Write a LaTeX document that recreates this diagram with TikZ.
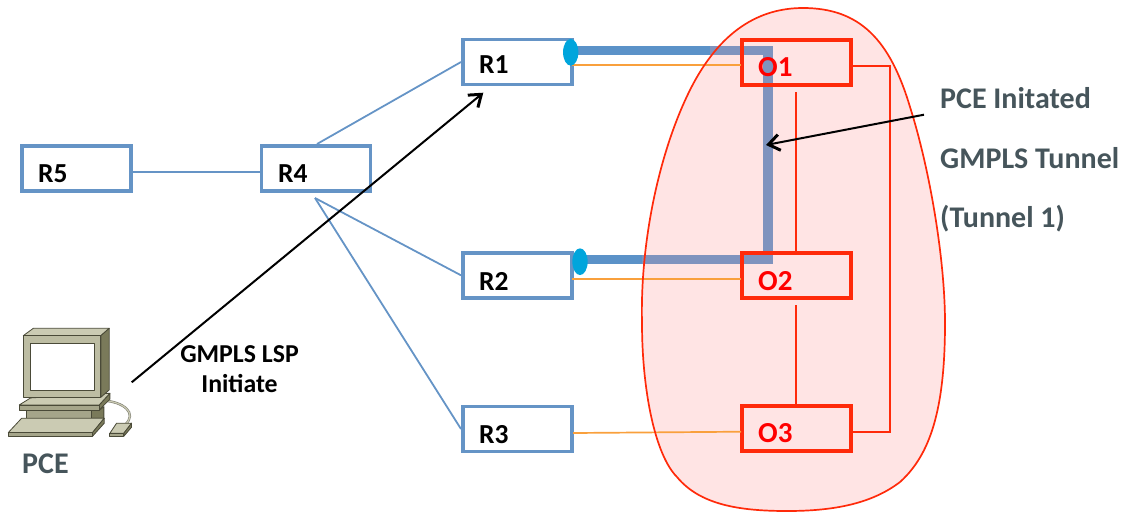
\documentclass[tikz,border=0pt]{standalone}
\usepackage{fontspec}
\setmainfont{Carlito}
\usetikzlibrary{arrows.meta,shapes.geometric}
\definecolor{bluebox}{HTML}{6594C6}
\definecolor{redbox}{HTML}{FF2A0A}
\definecolor{txt}{HTML}{46555B}
\definecolor{org}{HTML}{F9A03C}
\definecolor{tun}{HTML}{5B92C8}
\definecolor{tun2}{HTML}{7F93BE}
\definecolor{blob}{HTML}{FFE4E4}
\definecolor{dotc}{HTML}{00A5DC}
\definecolor{pcf}{HTML}{BDBDA3}
\definecolor{pct}{HTML}{CBCBB3}
\definecolor{pcs}{HTML}{7A7A5A}
\definecolor{pcd}{HTML}{A5A58A}
\definecolor{pcl}{HTML}{4A4A38}
\tikzset{x=1pt,y=-1pt,
rbox/.style={draw=bluebox,line width=3.6pt,minimum width=109pt,minimum height=45pt,inner sep=0pt},
obox/.style={draw=redbox,line width=4pt,minimum width=109pt,minimum height=45pt,inner sep=0pt},
lab/.style={font=\bfseries\fontsize{27.5}{27.5}\selectfont,text=black,anchor=base west,inner sep=0pt},
olab/.style={font=\bfseries\fontsize{29}{29}\selectfont,text=red,anchor=base west,inner sep=0pt},
glab/.style={font=\bfseries\fontsize{30}{30}\selectfont,text=txt,anchor=base west,inner sep=0pt},
bl/.style={draw=bluebox,line width=1.8pt},
ol/.style={draw=org,line width=1.7pt},
rl/.style={draw=redbox,line width=1.7pt},
dotn/.style={fill=dotc,draw=none,ellipse,minimum width=15.3pt,minimum height=26.7pt,inner sep=0pt},
pc/.style={draw=pcl,line width=.8pt,line join=round},
tip/.style={-{Straight Barb[length=11pt,width=16pt,line width=3pt]},line width=2pt}}
\begin{document}
\begin{tikzpicture}
\useasboundingbox (0,0) rectangle (1123,512);
\def\blobpath{(803,8) .. controls (860,8) and (890,40) .. (910,107) .. controls (930,170) and (945,260) .. (945,323) .. controls (945,410) and (930,455) .. (900,482) .. controls (870,505) and (830,511) .. (787,511) .. controls (740,511) and (700,505) .. (677,477) .. controls (655,455) and (642,390) .. (642,323) .. controls (640,240) and (660,150) .. (690,90) .. controls (720,30) and (760,8) .. (803,8) -- cycle}
\fill[blob] \blobpath;
\coordinate (c4) at (315,198);
\coordinate (t4) at (317,144);
\draw[tun,line width=9.3pt] (573,50.5) -- (710,50.5);
\draw[tun2,line width=9.3pt] (710,50.5) -- (772.7,50.5);
\draw[tun2,line width=9.3pt] (768,46) -- (768,264);
\draw[tun,line width=9.3pt] (586,259.5) -- (642,259.5);
\draw[tun2,line width=9.3pt] (642,259.5) -- (772.7,259.5);
\node[rbox] (R4) at (316,168.7) {};
\node[rbox] (R5) at (76.3,168.7) {};
\node[rbox] (R1) at (517.3,62) {};
\node[rbox] (R2) at (517.3,275.3) {};
\node[rbox] (R3) at (517.3,429) {};
\node[obox] (O1) at (796.3,62) {};
\node[obox] (O2) at (796.3,275.3) {};
\node[obox] (O3) at (796.3,428) {};
\draw[bl] ([yshift=-3pt]R5.east) -- ([yshift=-3pt]R4.west);
\draw[bl] (t4) -- (R1.west);
\draw[bl] (c4) -- (R2.west);
\draw[bl] (c4) -- (R3.west);
\draw[ol] (572,65) -- (741,65);
\draw[ol] (572,278.7) -- (741,278.7);
\draw[ol] (573,433) -- (741,431.7);
\draw[rl] (853,65.7) -- (890,65.7) -- (890,431.7) -- (853,431.7);
\draw[rl] (796.3,92) -- (796.3,252);
\draw[rl] (796.3,305) -- (796.3,404);
\draw[draw=redbox,line width=1.7pt] \blobpath;
\node[dotn] (d1) at (570.7,52.3) {};
\node[dotn] (d2) at (580,261.7) {};
\node[lab] (tR1) at (479,73) {R1};
\node[lab] (tR2) at (479,290) {R2};
\node[lab] (tR3) at (479,443) {R3};
\node[lab] (tR4) at (278,182.7) {R4};
\node[lab] (tR5) at (38,182.7) {R5};
\node[olab] (tO1) at (758,76) {O1};
\node[olab] (tO2) at (758,290) {O2};
\node[olab] (tO3) at (758,442.3) {O3};
\node[glab] (g1) at (940,108) {PCE Initated};
\node[glab] (g2) at (940,168) {GMPLS Tunnel};
\node[glab] (g3) at (940,227.5) {(Tunnel 1)};
\node[font=\bfseries\fontsize{25.8}{30}\selectfont,text=black,align=center,inner sep=0pt] (glsp) at (239.5,369) {GMPLS LSP\\Initiate};
\node[font=\bfseries\fontsize{30}{30}\selectfont,text=txt,anchor=base west,inner sep=0pt] (tpce) at (22,473) {PCE};
% computer
\begin{scope}[shift={(0,310)},x=.333pt,y=-.333pt]
\draw[draw=pcl!70,line width=2.4pt] (310,272) .. controls (370,275) and (415,310) .. (375,345);
\draw[draw=pct,line width=1.2pt] (310,272) .. controls (370,275) and (415,310) .. (375,345);
\fill[pcs,pc] (80,325) -- (112,300) -- (300,300) -- (312,290) -- (312,325) -- cycle;
\fill[pcd,pc] (80,302) rectangle (275,325);
\fill[pcs,pc] (298,300) -- (298,285) -- (330,250) -- (330,268) -- cycle;
\fill[pct,pc] (58,285) -- (92,264) -- (330,250) -- (298,285) -- cycle;
\fill[pcd,pc] (58,285) rectangle (298,300);
\fill[pct,pc] (25,368) -- (65,325) -- (313,325) -- (278,368) -- cycle;
\fill[pcd,pc] (25,368) rectangle (278,379);
\fill[pcs,pc] (278,379) -- (278,368) -- (313,325) -- (313,340) -- cycle;
\fill[pct,pc] (330,370) -- (350,340) -- (395,340) -- (372,370) -- cycle;
\fill[pcd,pc] (330,370) rectangle (372,379);
\fill[pcs,pc] (372,379) -- (372,370) -- (395,340) -- (395,352) -- cycle;
\fill[pct,pc] (70,77) -- (100,55) -- (328,55) -- (303,77) -- cycle;
\fill[pcs,pc] (303,77) -- (328,55) -- (328,240) -- (303,262) -- cycle;
\fill[pcf,pc] (70,77) rectangle (303,262);
\fill[white,pc] (92,100) rectangle (283,242);
\end{scope}
\coordinate (pcr) at (131.7,382.3);
\coordinate (r1t) at (483.3,92.7);
\draw[tip] (pcr) -- (r1t);
\coordinate (gt) at (924,114.7);
\coordinate (tunt) at (766,145);
\draw[tip] (gt) -- (tunt);
\end{tikzpicture}
\end{document}
